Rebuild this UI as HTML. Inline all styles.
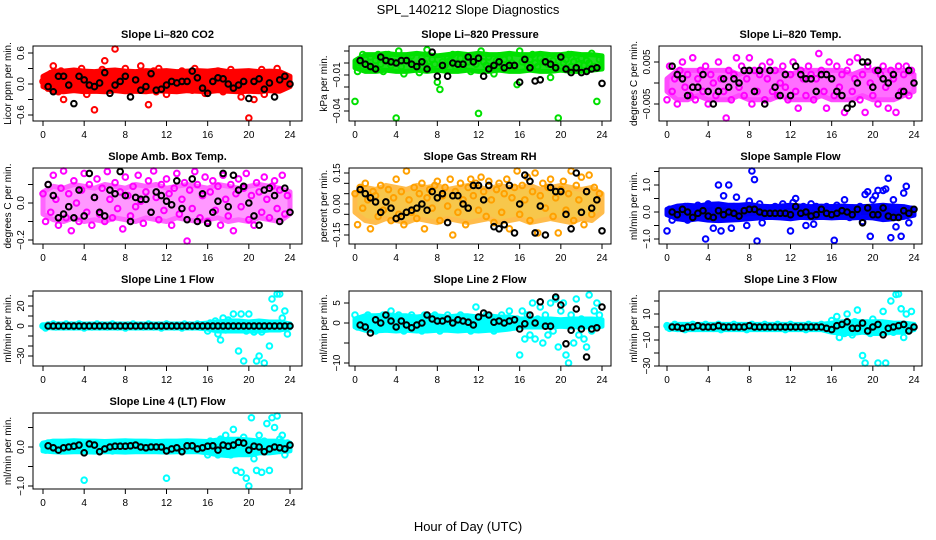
<!DOCTYPE html>
<html><head><meta charset="utf-8"><style>
html,body{margin:0;padding:0;background:#fff;}
svg{display:block;font-family:"Liberation Sans",sans-serif;}
</style></head><body>
<svg id="chart" width="936" height="540" viewBox="0 0 936 540" xmlns="http://www.w3.org/2000/svg">
<text x="468" y="14" text-anchor="middle" font-size="13">SPL_140212  Slope Diagnostics</text>
<text x="468" y="531" text-anchor="middle" font-size="13">Hour of Day (UTC)</text>
</svg>
<script>
const colorHours=[0,0.25,0.5,0.75,1,1.25,1.5,1.75,2,2.25,2.5,2.75,3,3.25,3.5,3.75,4,4.25,4.5,4.75,5,5.25,5.5,5.75,6,6.25,6.5,6.75,7,7.25,7.5,7.75,8,8.25,8.5,8.75,9,9.25,9.5,9.75,10,10.25,10.5,10.75,11,11.25,11.5,11.75,12,12.25,12.5,12.75,13,13.25,13.5,13.75,14,14.25,14.5,14.75,15,15.25,15.5,15.75,16,16.25,16.5,16.75,17,17.25,17.5,17.75,18,18.25,18.5,18.75,19,19.25,19.5,19.75,20,20.25,20.5,20.75,21,21.25,21.5,21.75,22,22.25,22.5,22.75,23,23.25,23.5,23.75];
const blackHours=[0.5,1,1.5,2,2.5,3,3.5,4,4.5,5,5.5,6,6.5,7,7.5,8,8.5,9,9.5,10,10.5,11,11.5,12,12.5,13,13.5,14,14.5,15,15.5,16,16.5,17,17.5,18,18.5,19,19.5,20,20.5,21,21.5,22,22.5,23,23.5,24];
const bandHours=[0,1,2,3,4,5,6,7,8,9,10,11,12,13,14,15,16,17,18,19,20,21,22,23,24];
const xTicks=[0,4,8,12,16,20,24];

const co2Color=[0.05,0.12,-0.08,0.2,0.35,0.1,-0.15,0.25,-0.3,0.15,0.05,-0.1,0.2,0.08,-0.05,0.3,0.12,-0.2,0.1,0.02,-0.5,0.18,-0.08,0.28,0.45,0.1,-0.12,0.2,0.7,0.05,-0.05,0.22,0.3,0.15,-0.1,0.1,0.05,0.2,0.35,-0.08,0.15,-0.4,0.1,0.25,-0.15,0.3,0.12,0.05,-0.2,0.2,0.1,-0.05,0.18,0.08,0.25,-0.1,0.15,0.22,-0.12,0.3,0.05,0.15,0.1,-0.18,0.12,0.2,0.05,-0.08,0.25,0.1,-0.15,0.18,0.08,0.28,-0.05,0.12,0.2,-0.25,0.1,0.15,-0.7,0.22,-0.3,0.1,0.05,0.28,-0.2,0.15,0.12,-0.1,0.08,0.3,0.18,-0.05,0.1,0.05];
const co2Black=[-0.05,-0.15,0.15,0.15,-0.02,-0.38,0.15,0.08,-0.02,-0.05,0.02,0.22,-0.18,-0.02,0.05,0.15,-0.25,0.08,-0.12,-0.05,0.2,-0.12,-0.1,-0.02,0.05,0.02,0.05,0.05,0.25,0.12,-0.08,-0.18,0.05,0.12,0.1,0,-0.08,-0.02,0.05,-0.28,0.05,0.1,-0.1,0.02,-0.25,0.08,0.15,0];
const co2BandHi=[0.15,0.25,0.25,0.27,0.25,0.24,0.26,0.27,0.25,0.24,0.26,0.25,0.26,0.24,0.25,0.26,0.25,0.27,0.24,0.25,0.26,0.24,0.25,0.24,0.15];
const co2BandLo=[-0.05,-0.14,-0.15,-0.13,-0.15,-0.14,-0.15,-0.13,-0.15,-0.14,-0.15,-0.13,-0.14,-0.15,-0.13,-0.14,-0.15,-0.13,-0.14,-0.15,-0.14,-0.15,-0.13,-0.14,-0.05];
const presColor=[-0.032,-0.007,0,0.007,0.003,-0.002,0.005,-0.005,0.002,0.007,-0.001,-0.007,0.003,0.007,-0.002,0.001,-0.048,0.01,-0.003,-0.009,0.004,0.001,0.006,-0.002,-0.004,-0.008,0.005,0,0.011,-0.003,0.003,-0.001,-0.016,-0.022,0.001,-0.002,0.005,0.002,0.007,-0.003,0,0.004,-0.004,0.006,0.001,-0.007,0.003,-0.001,-0.042,0.01,0.001,-0.002,0.005,-0.003,-0.009,0.002,0.006,-0.001,0.003,-0.003,0.004,0,-0.004,-0.018,0.01,0.001,0.005,-0.002,0.003,0.007,0,-0.003,0.004,0.001,0.006,-0.001,-0.012,0.002,-0.002,-0.049,0.005,0,0.003,0.007,-0.003,0.001,0.006,-0.001,0.004,-0.002,0.002,0,0.008,-0.003,-0.032,0.003];
const presBlack=[0.002,-0.001,-0.003,-0.005,0.005,0.002,0.001,0,0.002,0.002,-0.001,-0.003,0.001,-0.005,0.009,-0.011,-0.002,-0.011,0,-0.001,-0.001,0.005,0.001,0.004,-0.011,-0.005,-0.002,0.001,-0.004,-0.002,-0.002,-0.016,0.003,-0.004,-0.015,-0.014,0.001,-0.001,-0.004,0.005,-0.005,-0.008,-0.004,-0.008,-0.007,-0.005,-0.004,-0.017];
const presBandHi=[0.002,0.007,0.007,0.008,0.007,0.007,0.008,0.007,0.006,0.007,0.008,0.007,0.008,0.007,0.007,0.008,0.007,0.007,0.008,0.007,0.007,0.008,0.007,0.007,0.006];
const presBandLo=[-0.004,-0.007,-0.007,-0.006,-0.007,-0.007,-0.006,-0.007,-0.006,-0.007,-0.007,-0.006,-0.007,-0.007,-0.006,-0.007,-0.007,-0.006,-0.007,-0.007,-0.006,-0.007,-0.007,-0.006,-0.005];
const tempColor=[-0.004,0.004,-0.002,0.001,-0.005,0.003,0.005,-0.001,0.002,-0.003,0.006,-0.004,0.001,0.003,-0.002,0.004,-0.005,0.002,0,-0.003,0.005,0.001,-0.002,-0.009,0.003,-0.004,0.002,0.006,-0.001,0.004,-0.003,0.001,0.006,-0.005,0.003,-0.002,0.002,0.004,-0.004,0.001,0.005,-0.002,0.003,-0.003,0,0.004,-0.001,-0.004,0.002,0.005,-0.002,-0.006,0.003,0.001,-0.003,0.004,0.002,-0.004,0.001,0.007,0.003,-0.002,-0.006,0.005,0.001,-0.003,0.004,-0.001,0.002,-0.007,0.003,0.005,-0.002,0.001,0.006,-0.004,0.002,-0.007,0.004,0,-0.003,0.003,-0.005,0.002,0.004,-0.001,-0.006,0.003,0.001,-0.007,0.004,-0.002,0.002,0.004,-0.003,0.003];
const tempBlack=[0.004,0.002,0.001,-0.003,-0.001,-0.001,0.002,-0.002,-0.005,-0.002,0.001,-0.001,0.001,0,0.003,0.003,-0.002,0.003,-0.005,0.003,-0.001,-0.003,0.002,-0.003,0.004,0.002,0.001,0.001,-0.002,0.002,0.002,0.001,-0.002,-0.003,-0.006,-0.005,0,0.005,0.005,-0.001,0.003,0.001,0,0.002,-0.003,-0.002,0.003,0];
const tempBandHi=[0.001,0.003,0.003,0.003,0.003,0.003,0.003,0.002,0.003,0.003,0.003,0.003,0.002,0.003,0.003,0.003,0.003,0.003,0.002,0.003,0.003,0.003,0.003,0.003,0.002];
const tempBandLo=[-0.002,-0.004,-0.004,-0.003,-0.004,-0.004,-0.004,-0.003,-0.004,-0.004,-0.004,-0.003,-0.004,-0.004,-0.004,-0.003,-0.004,-0.004,-0.004,-0.003,-0.004,-0.004,-0.004,-0.003,-0.002];
const boxColor=[0.05,-0.1,0.1,-0.05,0.15,0.02,-0.12,0.08,0.18,-0.08,0.05,-0.15,0.12,0,-0.1,0.07,0.16,-0.05,0.1,-0.12,0.03,0.13,-0.06,0.08,-0.1,0.17,0.02,-0.08,0.11,-0.03,0.06,-0.14,0.14,0.04,-0.07,0.09,-0.02,0.15,0.01,-0.11,0.06,0.12,-0.05,0.18,0.03,-0.09,0.1,-0.04,0.13,0.05,-0.12,0.08,0.16,-0.06,0.02,0.11,-0.22,0.07,-0.03,0.17,0.1,-0.08,0.04,0.14,-0.1,0.06,0.12,-0.04,0.09,-0.12,0.15,0.02,-0.07,0.1,-0.15,0.05,0.13,-0.02,0.08,0.16,-0.09,0.04,-0.12,0.11,0.06,-0.05,0.14,0.02,-0.08,0.09,0.12,-0.03,0.07,0.15,-0.06,0.04];
const boxBlack=[0.1,0.04,-0.08,-0.06,-0.02,-0.08,0.07,-0.07,0.16,0.03,-0.05,-0.07,0.07,0.05,0.17,0.04,-0.1,0.03,0.02,0.02,-0.05,0.06,0.04,0.01,-0.01,0.12,-0.03,-0.09,0.13,-0.1,0.05,-0.11,-0.05,0.01,0.16,-0.02,0.15,0.07,0.09,0,-0.07,-0.12,0.07,0.08,0.04,-0.1,0.08,-0.05];
const boxBandHi=[0.06,0.09,0.08,0.1,0.09,0.08,0.1,0.09,0.08,0.1,0.09,0.1,0.08,0.09,0.1,0.09,0.08,0.1,0.09,0.08,0.09,0.1,0.09,0.08,0.06];
const boxBandLo=[-0.06,-0.09,-0.1,-0.08,-0.1,-0.09,-0.1,-0.08,-0.09,-0.1,-0.08,-0.09,-0.1,-0.08,-0.09,-0.1,-0.09,-0.08,-0.1,-0.09,-0.1,-0.08,-0.09,-0.1,-0.06];
const rhColor=[0.05,-0.1,0.08,-0.02,0.1,0.02,-0.12,0.06,0.04,-0.06,0.09,-0.03,0.01,0.07,-0.08,0.03,0.12,-0.05,0.06,-0.1,0.16,0.02,-0.04,0.08,-0.07,0.05,0.1,-0.12,0.03,0.07,-0.02,0.09,0.11,-0.08,0.04,0.08,-0.01,0.12,-0.15,0.06,-0.04,0.1,0.02,-0.1,0.08,0.12,0.04,0.1,-0.03,0.13,0.06,-0.06,0.11,0.02,-0.09,0.07,0.1,-0.04,0.05,0.12,-0.12,0.03,0.08,0.16,-0.05,0.09,0.02,0.13,-0.08,0.06,0.15,-0.14,0.04,0.1,-0.02,0.08,0.12,-0.06,0.03,-0.14,0.07,0.11,-0.03,0.05,0.16,-0.08,0.09,0.02,0.13,-0.1,0.06,0.14,-0.05,0.08,0.02,0.05];
const rhBlack=[0.07,0.05,0.03,0.01,-0.04,0.01,-0.02,-0.07,-0.06,-0.04,-0.03,-0.02,0.0,-0.03,0.06,0.03,0.05,-0.09,0.04,0.04,0,-0.02,0.09,0.09,0.02,0.09,-0.11,-0.12,-0.1,0.09,-0.14,0.0,0.14,0.11,-0.14,-0.01,-0.15,0.08,0.06,0.06,-0.05,-0.12,0.15,-0.04,0.06,-0.02,0.02,-0.13];
const rhBandHi=[0.05,0.08,0.07,0.09,0.08,0.07,0.09,0.08,0.09,0.07,0.08,0.09,0.08,0.07,0.09,0.08,0.08,0.09,0.07,0.08,0.09,0.08,0.07,0.08,0.05];
const rhBandLo=[-0.04,-0.08,-0.09,-0.07,-0.08,-0.09,-0.07,-0.08,-0.09,-0.07,-0.08,-0.09,-0.08,-0.07,-0.09,-0.08,-0.07,-0.09,-0.08,-0.07,-0.08,-0.09,-0.07,-0.08,-0.04];
const flowColor=[-0.7,0.1,-0.3,0.05,-0.2,0.15,-0.1,0.2,-0.3,0.05,0.1,-0.15,0.25,-0.05,0.1,-1.0,0.3,-0.2,-0.6,0.1,1.0,-0.7,0.6,-0.1,1.0,-0.6,0.2,0.55,-0.05,0.1,0.2,-0.5,0.4,1.6,1.2,-1.1,0.3,-0.4,0.1,0.15,-0.1,0.05,0.2,-0.15,0.1,0.3,-0.05,0.1,-0.7,0.35,0.5,-0.1,0.15,0.2,-0.5,0.1,0.3,-0.45,0.2,0.05,-0.15,0.1,0.2,-0.05,0.15,-1.05,0.25,0.1,-0.1,0.45,0.05,-0.2,0.15,0.1,-0.05,0.2,-0.35,0.65,0.75,-0.9,0.45,0.6,0.8,-0.2,0.8,0.85,1.25,-0.95,0.45,-0.55,0.15,-0.9,0.7,0.95,-0.4,0.1];
const flowBlack=[0,-0.1,0.1,0.0,-0.2,-0.05,0.05,-0.15,-0.2,0.05,-0.1,0.0,-0.05,-0.15,0.05,0.1,0.1,0.0,-0.05,-0.05,-0.05,-0.05,-0.05,-0.1,0.2,-0.05,0,-0.15,-0.1,0.1,-0.05,-0.1,-0.05,0.05,0.0,-0.1,0.1,-0.4,0.15,-0.1,-0.1,0.15,-0.15,-0.2,-0.2,0.05,-0.05,0.1];
const flowBandHi=[0.1,0.22,0.25,0.22,0.28,0.3,0.25,0.25,0.28,0.22,0.2,0.22,0.25,0.22,0.2,0.22,0.2,0.22,0.2,0.2,0.22,0.25,0.22,0.2,0.12];
const flowBandLo=[-0.1,-0.25,-0.3,-0.25,-0.3,-0.32,-0.3,-0.28,-0.25,-0.22,-0.2,-0.22,-0.25,-0.2,-0.22,-0.2,-0.22,-0.2,-0.22,-0.2,-0.22,-0.28,-0.25,-0.2,-0.12];
const l1Color=[0,-2,1,0,2,-1,1,0,-1,2,0,1,-1,0,2,1,-2,0,1,-1,0,2,-1,1,0,-1,1,2,0,-1,1,0,-2,1,0,2,-1,0,1,-1,0,2,1,-1,0,1,-2,0,2,1,0,-1,1,0,-2,2,0,1,-1,0,2,-1,1,0,-5,3,-2,5,-8,-14,8,-4,6,-2,12,3,-25,12,-35,-5,12,2,-6,-35,-30,-6,-38,2,-20,27,18,32,36,8,15,-8];
const l1Black=[0,0,0,0,0,0,0,0,0,0,0,0,0,0,0,0,0,0,0,0,0,0,0,0,0,0,0,0,0,0,0,0,0,0,0,0,0,0,0,0,0,0,0,0,0,0,0,0];
const l1BandHi=[1,2,2,2,2,2,2,2,2,2,2,2,2,2,2,2,3,4,5,5,4,5,4,4,2];
const l1BandLo=[-1,-2,-2,-2,-2,-2,-2,-2,-2,-2,-2,-2,-2,-2,-2,-2,-3,-5,-5,-5,-5,-5,-4,-4,-2];
const l2Color=[2,-1,1,0,-1,2,0,1,-2,1,0,2,-1,1,3,0,-1,2,1,-2,0,1,2,-1,0,1,-2,2,1,0,-1,2,1,-2,0,1,2,0,-1,1,0,2,-1,1,0,-2,1,4,0,1,-1,2,0,1,-2,1,0,2,-1,1,3,0,-1,1,-8,3,-4,2,-3,5,-4,1,4,-5,2,-3,5,-2,6,-6,3,5,-8,-10,2,-5,6,-3,1,-4,-6,7,-2,3,5,2];
const l2Black=[-0.5,-1,-2.5,0.8,0,2,0.5,-1,0.5,-0.5,-1.2,-0.5,0,2,1,0.5,0.5,1,0,0.8,0.5,0.2,-0.5,1.5,2.5,2,0.2,0.5,0,0.5,0.8,-1.5,-0.2,2,0,5.3,-0.8,-0.8,6.5,4.5,-5.2,-1.8,3.5,-1.5,-8.5,-1.5,-1.2,4];
const l2BandHi=[1,1.8,1.8,2,1.8,1.8,1.5,1.8,1.8,1.5,1.8,1.8,1.5,1.8,1.5,1.5,1,1,1,1,0.8,1,1,1,0.8];
const l2BandLo=[-1,-1.8,-2,-1.8,-2,-1.8,-2,-2,-1.8,-1.8,-2,-1.8,-2,-1.8,-1.8,-1.5,-1,-1,-1,-1,-0.8,-1,-1,-1,-0.8];
const l3Color=[1,-1,0,2,-1,1,0,-2,1,0,2,-1,1,0,-1,2,0,1,-1,0,2,-2,1,0,-1,1,2,0,-1,1,0,-2,1,2,0,-1,1,0,2,-1,0,1,-1,2,0,1,-2,0,2,1,0,-1,1,0,-2,2,0,1,-1,0,2,-1,1,0,5,-3,8,-8,2,-5,10,-2,-6,4,13,0,-22,-30,-3,-5,6,-2,-35,0,12,-36,-3,20,-4,25,32,14,-8,10,-3,12];
const l3Black=[0,0,-1,0,0,1,0,0,0,1,0,0,0,0,0,1,0,0,0,0,0,0,0,0,0,0,0,0,0,0,-1,-2,1,2,4,-1,-1,3,-3,0,2,-6,-1,0,1,2,-3,0];
const l3BandHi=[1,2,2,2,2,2,2,2,2,2,2,2,2,2,2,2,3,4,4,4,4,4,3,3,2];
const l3BandLo=[-1,-2,-2,-2,-2,-2,-2,-2,-2,-2,-2,-2,-2,-2,-2,-2,-4,-5,-5,-4,-5,-5,-4,-4,-2];
const l4Color=[0.05,-0.08,0.1,0,-0.05,0.08,0.02,-0.1,0.06,-0.03,0.09,0,-0.06,0.05,0.1,-0.04,-0.85,0.07,-0.02,0.1,0.03,-0.08,0.06,0,-0.05,0.09,0.02,-0.1,0.05,0.08,-0.03,0.01,0.1,-0.06,0.04,0.08,-0.02,0.06,-0.08,0.1,0,0.05,-0.05,0.09,0.02,-0.07,0.06,0.03,-0.8,0.1,-0.04,0.05,0.08,-0.08,0.02,0.1,-0.03,0.06,0,0.09,-0.06,0.04,0.08,-0.02,-0.2,0.15,-0.1,0.1,-0.2,0.2,-0.15,0.3,0.05,-0.2,0.45,-0.6,0.1,-0.65,0.25,-0.8,-1.05,0.75,-0.3,-0.6,0.3,-0.65,0.15,0.6,-0.6,0.75,0.5,0.85,0.2,0.3,-0.2,0.1];
const l4Black=[0.03,-0.02,-0.08,-0.02,0,0.02,0.05,-0.15,0.08,0.05,-0.12,-0.05,0,0.02,0.02,0.02,0.03,0.05,0,-0.02,0,0,0,-0.1,-0.05,-0.02,-0.12,0.03,0.03,-0.05,-0.02,0.02,0.03,-0.08,0.05,0.02,0.05,0.12,0.1,-0.08,0.02,0,-0.12,-0.05,0,-0.02,-0.05,0.05];
const l4BandHi=[0.1,0.15,0.15,0.16,0.15,0.15,0.14,0.15,0.16,0.15,0.15,0.14,0.15,0.15,0.16,0.15,0.14,0.18,0.2,0.2,0.18,0.15,0.15,0.15,0.1];
const l4BandLo=[-0.1,-0.12,-0.13,-0.12,-0.12,-0.13,-0.12,-0.12,-0.13,-0.12,-0.12,-0.12,-0.13,-0.12,-0.12,-0.12,-0.15,-0.2,-0.22,-0.2,-0.2,-0.15,-0.15,-0.12,-0.1];

const yTicks1=[-0.6,-0.3,0,0.3,0.6], yLab1=["-0.6","","0.0","","0.6"];
const yTicks2=[-0.04,-0.03,-0.02,-0.01,0,0.01], yLab2=["-0.04","","","-0.01","",""];
const yTicks3=[-0.005,0,0.005], yLab3=["-0.005","","0.005"];
const yTicks4=[-0.2,-0.1,0,0.1], yLab4=["-0.2","","0.0",""];
const yTicks5=[-0.15,-0.1,-0.05,0,0.05,0.1,0.15], yLab5=["-0.15","","","0.00","","","0.15"];
const yTicks6=[-1,-0.5,0,0.5,1,1.5], yLab6=["-1.0","","0.0","","1.0",""];
const yTicks7=[-30,-20,-10,0,10,20,30], yLab7=["-30","","","0","","20",""];
const yTicks8=[-10,-5,0,5], yLab8=["-10","","0","5"];
const yTicks9=[-30,-20,-10,0,10,20], yLab9=["-30","","-10","","10",""];
const yTicks10=[-1,-0.5,0,0.5], yLab10=["-1.0","","0.0",""];

// layout (not data)
const cols=[{l:33,r:302,x0:43,x24:290},{l:349,r:611,x0:355,x24:602},{l:659,r:922,x0:667,x24:914}];
const rows=[{t:46,b:121},{t:168,b:244},{t:291,b:366},{t:413,b:489}];
const panels=[
 {name:"co2",title:"Slope Li–820 CO2",ylab:"Licor ppm per min.",c:0,r:0,col:"#ff0000",fill:"#ff0000",op:1,cv:co2Color,bv:co2Black,bh:co2BandHi,bl:co2BandLo,yt:yTicks1,yl:yLab1,a:[0,84,0.6,53]},
 {name:"pressure",title:"Slope Li–820 Pressure",ylab:"kPa per min.",c:1,r:0,col:"#00e000",fill:"#22dd22",op:1,cv:presColor,bv:presBlack,bh:presBandHi,bl:presBandLo,yt:yTicks2,yl:yLab2,a:[0,63,-0.04,111]},
 {name:"temp",title:"Slope Li–820 Temp.",ylab:"degrees C per min.",c:2,r:0,col:"#ff00ff",fill:"#ff33ff",op:0.7,cv:tempColor,bv:tempBlack,bh:tempBandHi,bl:tempBandLo,yt:yTicks3,yl:yLab3,a:[0,83,0.005,62]},
 {name:"amb-box-temp",title:"Slope Amb. Box Temp.",ylab:"degrees C per min.",c:0,r:1,col:"#ff00ff",fill:"#ff55ff",op:0.6,cv:boxColor,bv:boxBlack,bh:boxBandHi,bl:boxBandLo,yt:yTicks4,yl:yLab4,a:[0,203,-0.2,240]},
 {name:"gas-rh",title:"Slope Gas Stream RH",ylab:"percent per min.",c:1,r:1,col:"#ffa000",fill:"#f5b000",op:0.7,cv:rhColor,bv:rhBlack,bh:rhBandHi,bl:rhBandLo,yt:yTicks5,yl:yLab5,a:[0,204,0.15,173]},
 {name:"sample-flow",title:"Slope Sample Flow",ylab:"ml/min per min.",c:2,r:1,col:"#0000ff",fill:"#0000ee",op:1,cv:flowColor,bv:flowBlack,bh:flowBandHi,bl:flowBandLo,yt:yTicks6,yl:yLab6,a:[0,212,1,185]},
 {name:"line1-flow",title:"Slope Line 1 Flow",ylab:"ml/min per min.",c:0,r:2,col:"#00ffff",fill:"#00ffff",op:1,cv:l1Color,bv:l1Black,bh:l1BandHi,bl:l1BandLo,yt:yTicks7,yl:yLab7,a:[0,326,20,306]},
 {name:"line2-flow",title:"Slope Line 2 Flow",ylab:"ml/min per min.",c:1,r:2,col:"#00ffff",fill:"#00ffff",op:1,cv:l2Color,bv:l2Black,bh:l2BandHi,bl:l2BandLo,yt:yTicks8,yl:yLab8,a:[0,323,5,303]},
 {name:"line3-flow",title:"Slope Line 3 Flow",ylab:"ml/min per min.",c:2,r:2,col:"#00ffff",fill:"#00ffff",op:1,cv:l3Color,bv:l3Black,bh:l3BandHi,bl:l3BandLo,yt:yTicks9,yl:yLab9,a:[10,314,-10,340]},
 {name:"line4-flow",title:"Slope Line 4 (LT) Flow",ylab:"ml/min per min.",c:0,r:3,col:"#00ffff",fill:"#00ffff",op:1,cv:l4Color,bv:l4Black,bh:l4BandHi,bl:l4BandLo,yt:yTicks10,yl:yLab10,a:[0,447,-1,486]}
];
const NS="http://www.w3.org/2000/svg";
const svg=document.getElementById("chart");
function mk(tag,attrs,parent){const e=document.createElementNS(NS,tag);for(const k in attrs)e.setAttribute(k,attrs[k]);parent.appendChild(e);return e;}
panels.forEach(p=>{
 const C=cols[p.c],R=rows[p.r];
 const g=mk("g",{},svg);
 
 
 const xs=h=>C.x0+(C.x24-C.x0)*h/24;
 const ys=v=>p.a[1]+(v-p.a[0])*(p.a[3]-p.a[1])/(p.a[2]-p.a[0]);
 const t=mk("text",{x:(C.l+C.r)/2,y:R.t-8,"text-anchor":"middle","font-size":"11","font-weight":"bold"},g);
 t.textContent=p.title;
 
 
 let d="";
 for(let i=0;i<bandHours.length;i++){d+=(i?"L":"M")+xs(bandHours[i]).toFixed(1)+","+ys(p.bh[i]).toFixed(1);}
 for(let i=bandHours.length-1;i>=0;i--){d+="L"+xs(bandHours[i]).toFixed(1)+","+ys(p.bl[i]).toFixed(1);}
 const band=mk("path",{d:d+"Z",fill:p.fill,stroke:p.col,"stroke-width":5,"stroke-linejoin":"round",opacity:p.op},g);
 
 
 const pts=mk("g",{fill:"none"},g);
 
 
 for(let i=0;i<Math.min(colorHours.length,p.cv.length);i++){
  const y=Math.max(R.t+3,Math.min(R.b-3,ys(p.cv[i])));
  const c=mk("circle",{cx:xs(colorHours[i]),cy:y,r:2.8,stroke:p.col,"stroke-width":2},pts);
  
  
 }
 for(let i=0;i<Math.min(blackHours.length,p.bv.length);i++){
  const c=mk("circle",{cx:xs(blackHours[i]),cy:ys(p.bv[i]),r:2.8,stroke:"#000","stroke-width":2},pts);
  
  
 }
 const box=mk("rect",{x:C.l,y:R.t,width:C.r-C.l,height:R.b-R.t,fill:"none",stroke:"#000","stroke-width":1},g);
 
 
 xTicks.forEach(h=>{
  mk("line",{x1:xs(h),x2:xs(h),y1:R.b,y2:R.b+5,stroke:"#000"},g);
  const tl=mk("text",{x:xs(h),y:R.b+17,"text-anchor":"middle","font-size":"10"},g);
  tl.textContent=h;
  
  
 });
 p.yt.forEach((v,i)=>{
  const y=ys(v);
  mk("line",{x1:C.l-5,x2:C.l,y1:y,y2:y,stroke:"#000"},g);
  if(p.yl[i]){
   const tl=mk("text",{x:0,y:0,"text-anchor":"middle","font-size":"10",transform:`translate(${C.l-9},${y}) rotate(-90)`},g);
   tl.textContent=p.yl[i].replace("-","\u2212");
   
   
  }
 });
 const yt=mk("text",{x:0,y:0,"text-anchor":"middle","font-size":"10",transform:`translate(${C.l-22},${(R.t+R.b)/2}) rotate(-90)`},g);
 yt.textContent=p.ylab;
 
 
});
</script>
</body></html>
